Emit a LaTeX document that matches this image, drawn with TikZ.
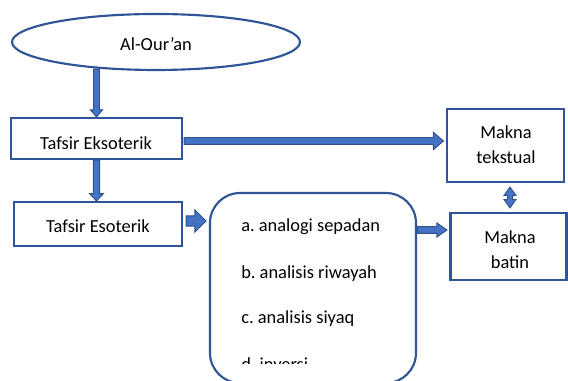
\documentclass[tikz,border=0pt]{standalone}
\usepackage{fontspec}
\setmainfont{Carlito}
\usetikzlibrary{calc,shapes.geometric}
\definecolor{bord}{HTML}{2F5597}
\definecolor{afill}{HTML}{4472C4}
\definecolor{aline}{HTML}{2F528F}
\tikzset{
  box/.style={draw=bord, line width=1.6pt, inner sep=0pt},
  arr/.style={fill=afill, draw=aline, line width=0.7pt, line join=miter},
  lbl/.style={inner sep=0pt, anchor=base, font=\fontsize{13.8}{18.75}\selectfont\frenchspacing, align=center},
  lst/.style={inner sep=0pt, anchor=base west, font=\fontsize{13.8}{18.75}\selectfont\frenchspacing}
}
% block arrow: from, to, shaft half, head half, head length
\newcommand\barr[5]{\filldraw[arr] ($(#1)!#3!90:(#2)$) -- ($(#2)!#5!(#1)!#3!-90:(#1)$) -- ($(#2)!#5!(#1)!#4!-90:(#1)$) -- (#2) -- ($(#2)!#5!(#1)!#4!90:(#1)$) -- ($(#2)!#5!(#1)!#3!90:(#1)$) -- ($(#1)!#3!-90:(#2)$) -- cycle;}
% double-headed block arrow
\newcommand\dbarr[5]{\filldraw[arr] (#1) -- ($(#1)!#5!(#2)!#4!90:(#2)$) -- ($(#1)!#5!(#2)!#3!90:(#2)$) -- ($(#2)!#5!(#1)!#3!-90:(#1)$) -- ($(#2)!#5!(#1)!#4!-90:(#1)$) -- (#2) -- ($(#2)!#5!(#1)!#4!90:(#1)$) -- ($(#2)!#5!(#1)!#3!90:(#1)$) -- ($(#1)!#5!(#2)!#3!-90:(#2)$) -- ($(#1)!#5!(#2)!#4!-90:(#2)$) -- cycle;}
\begin{document}
\begin{tikzpicture}[x=0.75pt, y=-0.75pt]
\useasboundingbox (0,0) rectangle (568,381);
\fill[white] (0,0) rectangle (568,381);

% shapes
\node[box, ellipse, minimum width=288*0.75pt, minimum height=56*0.75pt] (ell) at (156,42) {};
\node[box, rectangle, minimum width=171*0.75pt, minimum height=41*0.75pt] (eks) at (96.5,138.5) {};
\node[box, rectangle, minimum width=168*0.75pt, minimum height=44*0.75pt] (eso) at (98,224) {};
\node[box, rectangle, minimum width=117*0.75pt, minimum height=73*0.75pt] (tek) at (505.5,145.5) {};
\node[box, rectangle, minimum width=116*0.75pt, minimum height=67*0.75pt] (bat) at (508.5,246.5) {};
\node[box, rectangle, rounded corners=30*0.75pt, minimum width=206*0.75pt, minimum height=190*0.75pt] (lst) at (313,288) {};

% texts
\begin{scope}
  \clip (100,25) rectangle (220,50);
  \node[lbl] (tq) at (156,51) {Al-Qur’an};
\end{scope}
\begin{scope}
  \clip (20,125) rectangle (180,149);
  \node[lbl] (tk) at (96,149.8) {Tafsir Eksoterik};
\end{scope}
\node[lbl] (te) at (98,232.3) {Tafsir Esoterik};
\node[lbl] (tt) at (506,163.3) {Makna\\tekstual};
\node[lbl] (tb) at (510,268.3) {Makna\\batin};
\node[lst] (la) at (241,231.7) {a. analogi sepadan};
\node[lst] (lb) at (241,278.3) {b. analisis riwayah};
\node[lst] (lc) at (241,324) {c. analisis siyaq};
\begin{scope}
  \clip (230,345) rectangle (400,363.5);
  \node[lst] (ld) at (241,370.3) {d. inversi};
\end{scope}

% connector end points
\coordinate (a1s) at ($(eks.north |- ell.south)+(0,-2)$);
\coordinate (a1e) at (eks.north);
\coordinate (a2s) at (eks.south);
\coordinate (a2e) at (eks.south |- eso.north);
\coordinate (a3s) at ($(eks.east)+(1,2.5)$);
\coordinate (a3e) at ($(tek.west |- a3s)+(-2.5,0)$);
\coordinate (a4s) at ($(eso.east)+(3,-3)$);
\coordinate (a4e) at ($(lst.west |- a4s)+(-3,0)$);
\coordinate (a5s) at ($(lst.east)+(0.5,-58)$);
\coordinate (a5e) at ($(bat.west |- a5s)+(-2.5,0)$);
\coordinate (a6s) at ($(tek.south)+(4.5,4)$);
\coordinate (a6e) at ($(bat.north)+(1.5,-4)$);

% connectors
\barr{a1s}{a1e}{2.25pt}{4.5pt}{5.25pt}
\barr{a2s}{a2e}{2.4pt}{5.2pt}{5.5pt}
\barr{a3s}{a3e}{2.6pt}{6.5pt}{7.5pt}
\barr{a4s}{a4e}{3.9pt}{8.3pt}{8.3pt}
\barr{a5s}{a5e}{2.5pt}{5.25pt}{7.5pt}
\dbarr{a6s}{a6e}{1.9pt}{4.5pt}{6.3pt}
\end{tikzpicture}
\end{document}
